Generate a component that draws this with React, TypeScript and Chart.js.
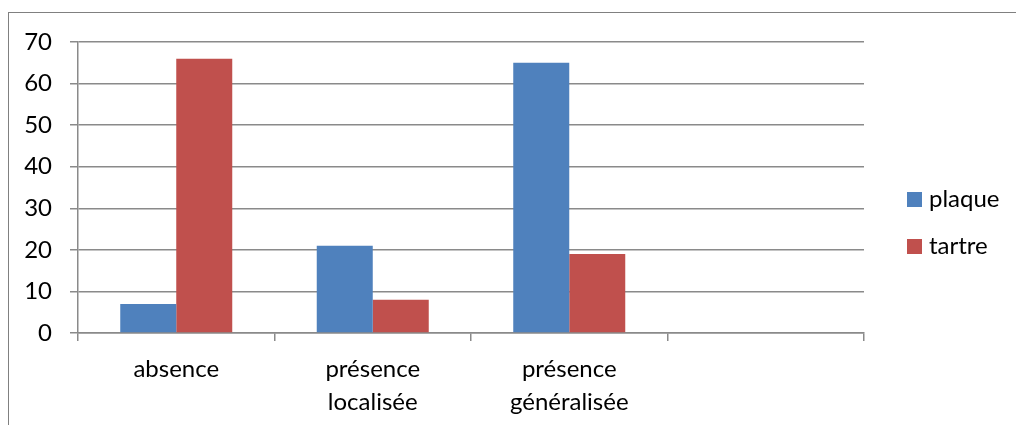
import { useEffect, useRef } from "react";
import { Chart, registerables } from "chart.js";

Chart.register(...registerables);

// Categories (last slot intentionally empty) and series values
const categories: (string | string[])[] = [
  "absence",
  ["présence", "localisée"],
  ["présence", "généralisée"],
  "",
];
const plaque: (number | null)[] = [7, 21, 65, null];
const tartre: (number | null)[] = [66, 8, 19, null];
const seriesNames = ["plaque", "tartre"];
const seriesColors = ["#4F81BD", "#C0504D"];
const yMax = 70;
const yStep = 10;

const FONT = "Lato";
const AXIS_GREY = "#8a8a8a";

// Legend drawn to the right of the plot, square swatch + label per series
const sideLegend = {
  id: "sideLegend",
  afterDraw(chart: any) {
    const { ctx, chartArea } = chart;
    ctx.save();
    ctx.font = `24px ${FONT}`;
    ctx.textBaseline = "middle";
    ctx.textAlign = "left";
    chart.data.datasets.forEach((ds: any, i: number) => {
      const x = chartArea.right + 43;
      const y = 199 + i * 47;
      ctx.fillStyle = ds.backgroundColor;
      ctx.fillRect(x, y - 7, 15, 15);
      ctx.fillStyle = "#000";
      ctx.fillText(ds.label, x + 22, y);
    });
    ctx.restore();
  },
};

export default function App() {
  const canvasRef = useRef<HTMLCanvasElement | null>(null);

  useEffect(() => {
    let chart: Chart | null = null;
    let cancelled = false;

    const build = () => {
      if (cancelled || !canvasRef.current) return;
      chart = new Chart(canvasRef.current, {
        type: "bar",
        data: {
          labels: categories as any,
          datasets: [
            { label: seriesNames[0], data: plaque, backgroundColor: seriesColors[0] },
            { label: seriesNames[1], data: tartre, backgroundColor: seriesColors[1] },
          ],
        },
        options: {
          responsive: false,
          animation: false,
          layout: { padding: { top: 42, right: 152, left: 0, bottom: 0 } },
          datasets: { bar: { categoryPercentage: 0.57, barPercentage: 1 } },
          plugins: { legend: { display: false }, tooltip: { enabled: false } },
          scales: {
            x: {
              offset: true,
              grid: {
                offset: true,
                drawOnChartArea: false,
                drawTicks: true,
                tickLength: 8,
                color: AXIS_GREY,
                lineWidth: 1.5,
              },
              border: { display: true, color: AXIS_GREY, width: 1.5 },
              ticks: {
                color: "#000",
                font: { family: FONT, size: 24, lineHeight: 1.4 },
                padding: 11,
                maxRotation: 0,
                autoSkip: false,
              },
              afterFit: (s: any) => {
                s.height = 92;
              },
            },
            y: {
              min: 0,
              max: yMax,
              ticks: {
                stepSize: yStep,
                color: "#000",
                font: { family: FONT, size: 24 },
                padding: 18,
              },
              grid: { color: AXIS_GREY, tickLength: 8, lineWidth: 1.5 },
              border: { display: true, color: AXIS_GREY, width: 1.5 },
              afterFit: (s: any) => {
                s.width = 78;
              },
            },
          },
        },
        plugins: [sideLegend],
      });
    };

    if (document.fonts && document.fonts.load) {
      document.fonts.load(`24px ${FONT}`).then(build, build);
    } else {
      build();
    }

    return () => {
      cancelled = true;
      if (chart) chart.destroy();
    };
  }, []);

  return (
    <div
      style={{
        position: "fixed",
        left: 0,
        top: 0,
        width: 1016,
        height: 425,
        overflow: "hidden",
        background: "#fff",
      }}
    >
      <div
        style={{
          position: "absolute",
          left: 8,
          top: 12,
          width: 1100,
          height: 500,
          border: "1px solid #808080",
        }}
      />
      <canvas
        ref={canvasRef}
        width={1016}
        height={425}
        style={{ position: "absolute", left: 0, top: 0 }}
      />
    </div>
  );
}
